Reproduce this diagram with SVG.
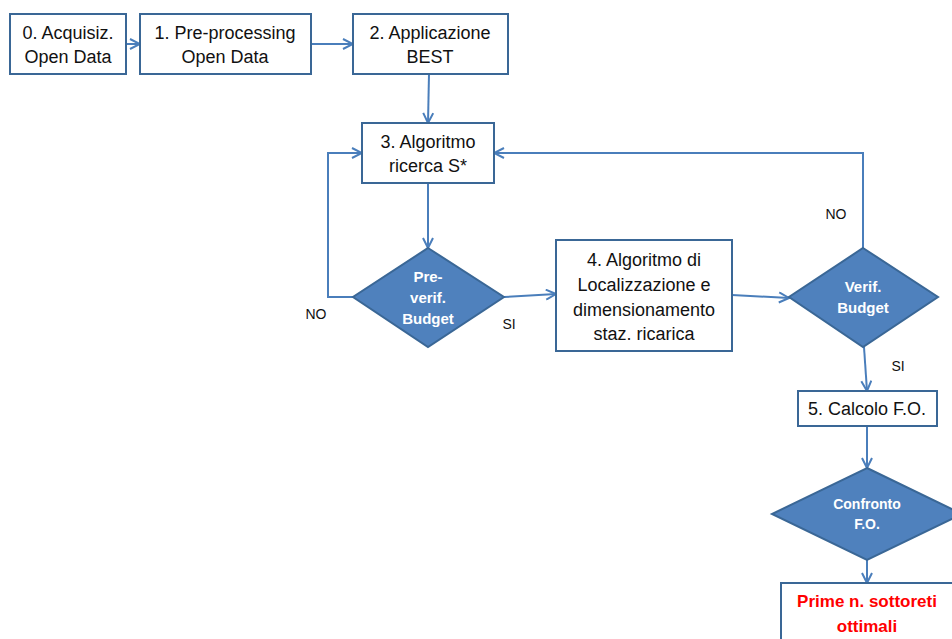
<svg xmlns="http://www.w3.org/2000/svg" width="952" height="639" viewBox="0 0 952 639">
<style>
.box{fill:#fff;stroke:#3A6796;stroke-width:2}
.dia{fill:#4F81BD;stroke:#3A6796;stroke-width:2}
.t{font-family:"Liberation Sans",Arial,sans-serif;font-size:18px;fill:#111;text-anchor:middle}
.w{font-family:"Liberation Sans",Arial,sans-serif;font-size:15px;font-weight:bold;fill:#fff;text-anchor:middle}
.r{font-family:"Liberation Sans",Arial,sans-serif;font-size:17px;font-weight:bold;fill:#FF0000;text-anchor:middle}
.l{font-family:"Liberation Sans",Arial,sans-serif;font-size:14px;fill:#111;text-anchor:middle}
.c{fill:none;stroke:#4A7EBB;stroke-width:2;marker-end:url(#ah)}
.cn{fill:none;stroke:#4A7EBB;stroke-width:2}
</style>
<defs>
<marker id="ah" viewBox="0 0 12 12" refX="11" refY="6" markerWidth="12" markerHeight="12" markerUnits="userSpaceOnUse" orient="auto">
<path d="M1,1 L11,6 L1,11" fill="none" stroke="#4A7EBB" stroke-width="2"/>
</marker>
</defs>
<rect width="952" height="639" fill="#fff"/>
<g id="connectors">
<line class="c" x1="126" y1="44" x2="140" y2="44"/>
<line class="c" x1="311" y1="44" x2="353" y2="44"/>
<line class="c" x1="429" y1="74" x2="428" y2="123"/>
<line class="c" x1="428" y1="183" x2="428" y2="248"/>
<polyline class="c" points="353,297 328,297 328,153 362,153"/>
<line class="c" x1="504" y1="297" x2="556" y2="294"/>
<line class="c" x1="732" y1="295" x2="789" y2="298"/>
<polyline class="c" points="863,248 863,153 494,153"/>
<line class="c" x1="864" y1="347" x2="867" y2="391"/>
<line class="c" x1="867" y1="426" x2="867" y2="468"/>
<line class="c" x1="867" y1="560" x2="867" y2="583"/>
<text class="l" x="316" y="319">NO</text>
<text class="l" x="509" y="329">SI</text>
<text class="l" x="836" y="219">NO</text>
<text class="l" x="898" y="371">SI</text>
</g>
<g id="n0">
<rect class="box" x="10" y="14" width="116" height="60"/>
<text class="t" x="68" y="39">0. Acquisiz.</text>
<text class="t" x="68" y="63">Open Data</text>
</g>
<g id="n1">
<rect class="box" x="140" y="14" width="171" height="60"/>
<text class="t" x="225" y="39">1. Pre-processing</text>
<text class="t" x="225" y="63">Open Data</text>
</g>
<g id="n2">
<rect class="box" x="353" y="14" width="155" height="60"/>
<text class="t" x="430" y="39">2. Applicazione</text>
<text class="t" x="430" y="63">BEST</text>
</g>
<g id="n3">
<rect class="box" x="362" y="123" width="132" height="60"/>
<text class="t" x="428" y="148">3. Algoritmo</text>
<text class="t" x="428" y="172">ricerca S*</text>
</g>
<g id="d1">
<polygon class="dia" points="428,248 504,297 428,347 353,297"/>
<text class="w" x="428" y="282">Pre-</text>
<text class="w" x="428" y="303">verif.</text>
<text class="w" x="428" y="324">Budget</text>
</g>
<g id="n4">
<rect class="box" x="556" y="240" width="176" height="111"/>
<text class="t" x="644" y="266">4. Algoritmo di</text>
<text class="t" x="644" y="291">Localizzazione e</text>
<text class="t" x="644" y="316">dimensionamento</text>
<text class="t" x="644" y="340">staz. ricarica</text>
</g>
<g id="d2">
<polygon class="dia" points="863,248 938,297 863,347 789,297"/>
<text class="w" x="863" y="292">Verif.</text>
<text class="w" x="863" y="313">Budget</text>
</g>
<g id="n5">
<rect class="box" x="798" y="391" width="139" height="35"/>
<text class="t" x="867" y="415">5. Calcolo F.O.</text>
</g>
<g id="d3">
<polygon class="dia" style="font-size:14px" points="867,468 962,514 867,560 772,514"/>
<text class="w" style="font-size:14px" x="867" y="509">Confronto</text>
<text class="w" style="font-size:14px" x="867" y="529">F.O.</text>
</g>
<g id="n6">
<rect class="box" x="781" y="583" width="200" height="70"/>
<text class="r" x="867" y="607">Prime n. sottoreti</text>
<text class="r" x="867" y="632">ottimali</text>
</g>
</svg>
